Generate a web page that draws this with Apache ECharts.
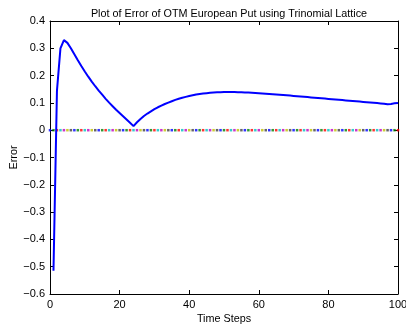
<!DOCTYPE html>
<html>
<head>
<meta charset="utf-8">
<script src="https://cdn.jsdelivr.net/npm/echarts@6/dist/echarts.min.js"></script>
<style>
  html, body { margin: 0; padding: 0; background: #fff; }
  #chart { width: 406px; height: 329px; }
</style>
</head>
<body>
<div id="chart"></div>
<script>
// Error of the trinomial-lattice price against the analytic price, per number of time steps
const steps = [
  1, 2, 3, 4, 5, 6, 7, 8, 9, 10,
  11, 12, 13, 14, 15, 16, 17, 18, 19, 20,
  21, 22, 23, 24, 25, 26, 27, 28, 29, 30,
  31, 32, 33, 34, 35, 36, 37, 38, 39, 40,
  41, 42, 43, 44, 45, 46, 47, 48, 49, 50,
  51, 52, 53, 54, 55, 56, 57, 58, 59, 60,
  61, 62, 63, 64, 65, 66, 67, 68, 69, 70,
  71, 72, 73, 74, 75, 76, 77, 78, 79, 80,
  81, 82, 83, 84, 85, 86, 87, 88, 89, 90,
  91, 92, 93, 94, 95, 96, 97, 98, 99, 100
];
const errorValues = [
  -0.515, 0.145, 0.300, 0.330, 0.320, 0.300, 0.278, 0.256, 0.235, 0.215,
  0.196, 0.178, 0.161, 0.145, 0.130, 0.115, 0.101, 0.088, 0.075, 0.063,
  0.051, 0.039, 0.027, 0.015, 0.029, 0.041, 0.052, 0.061, 0.069, 0.077,
  0.084, 0.090, 0.096, 0.101, 0.106, 0.111, 0.115, 0.119, 0.122, 0.125,
  0.128, 0.1305, 0.1325, 0.134, 0.1355, 0.1368, 0.1378, 0.1386, 0.1392, 0.1396,
  0.1398, 0.1398, 0.1396, 0.1393, 0.1389, 0.1384, 0.1378, 0.1371, 0.1364, 0.1356,
  0.1347, 0.1338, 0.1329, 0.1319, 0.1309, 0.1299, 0.1289, 0.1279, 0.1268, 0.1257,
  0.1246, 0.1235, 0.1224, 0.1213, 0.1202, 0.1191, 0.1180, 0.1169, 0.1158, 0.1147,
  0.1136, 0.1125, 0.1114, 0.1103, 0.1092, 0.1081, 0.1070, 0.1059, 0.1048, 0.1037,
  0.1026, 0.1015, 0.1004, 0.0993, 0.0982, 0.0970, 0.0950, 0.0962, 0.0985, 0.1000
];

// Zero reference, one marker per step count
const refSteps = [
  0, 1, 2, 3, 4, 5, 6, 7, 8, 9, 10,
  11, 12, 13, 14, 15, 16, 17, 18, 19, 20,
  21, 22, 23, 24, 25, 26, 27, 28, 29, 30,
  31, 32, 33, 34, 35, 36, 37, 38, 39, 40,
  41, 42, 43, 44, 45, 46, 47, 48, 49, 50,
  51, 52, 53, 54, 55, 56, 57, 58, 59, 60,
  61, 62, 63, 64, 65, 66, 67, 68, 69, 70,
  71, 72, 73, 74, 75, 76, 77, 78, 79, 80,
  81, 82, 83, 84, 85, 86, 87, 88, 89, 90,
  91, 92, 93, 94, 95, 96, 97, 98, 99, 100
];
const refValues = [
  0, 0, 0, 0, 0, 0, 0, 0, 0, 0, 0,
  0, 0, 0, 0, 0, 0, 0, 0, 0, 0,
  0, 0, 0, 0, 0, 0, 0, 0, 0, 0,
  0, 0, 0, 0, 0, 0, 0, 0, 0, 0,
  0, 0, 0, 0, 0, 0, 0, 0, 0, 0,
  0, 0, 0, 0, 0, 0, 0, 0, 0, 0,
  0, 0, 0, 0, 0, 0, 0, 0, 0, 0,
  0, 0, 0, 0, 0, 0, 0, 0, 0, 0,
  0, 0, 0, 0, 0, 0, 0, 0, 0, 0,
  0, 0, 0, 0, 0, 0, 0, 0, 0, 0
];

const xTicks = [0, 20, 40, 60, 80, 100];
const yTicks = [-0.6, -0.5, -0.4, -0.3, -0.2, -0.1, 0, 0.1, 0.2, 0.3, 0.4];

// classic colour order cycled by the marker series
const markerColors = ['#0000ff', '#008000', '#ff0000', '#00bfbf', '#bf00bf', '#bfbf00', '#404040'];

const FONT = '"Liberation Sans", Arial, Helvetica, sans-serif';
const fmtY = v => String(Math.round(v * 10) / 10).replace('-', '\u2212');

const chart = echarts.init(document.getElementById('chart'), null, { renderer: 'canvas' });

const frameLine = { show: true, onZero: false, lineStyle: { color: '#000', width: 1 } };
const innerTick = { show: true, inside: true, length: 4, lineStyle: { color: '#000', width: 1 } };

chart.setOption({
  animation: false,
  backgroundColor: '#fff',
  title: {
    text: 'Plot of Error of OTM European Put using Trinomial Lattice',
    left: 224, top: 4, textAlign: 'center',
    textStyle: { fontFamily: FONT, fontSize: 10.8, fontWeight: 'normal', color: '#000' }
  },
  grid: { left: 50, right: 8, top: 21, bottom: 35, containLabel: false, outerBoundsMode: 'none' },
  xAxis: [{
    type: 'value', min: xTicks[0], max: xTicks[xTicks.length - 1], interval: 20,
    position: 'bottom',
    name: 'Time Steps', nameLocation: 'middle', nameGap: 20, nameMoveOverlap: false,
    nameTextStyle: { fontFamily: FONT, fontSize: 10.8, color: '#000' },
    axisLine: frameLine, axisTick: innerTick,
    axisLabel: { fontFamily: FONT, fontSize: 11, color: '#000', margin: 5 },
    splitLine: { show: false }
  }, {
    type: 'value', min: xTicks[0], max: xTicks[xTicks.length - 1], interval: 20,
    position: 'top',
    axisLine: frameLine, axisTick: innerTick,
    axisLabel: { show: false }, splitLine: { show: false }
  }],
  yAxis: [{
    type: 'value', min: yTicks[0], max: yTicks[yTicks.length - 1], interval: 0.1,
    position: 'left',
    name: 'Error', nameLocation: 'middle', nameGap: 30, nameRotate: 90, nameMoveOverlap: false,
    nameTextStyle: { fontFamily: FONT, fontSize: 10.8, color: '#000' },
    axisLine: frameLine, axisTick: innerTick,
    axisLabel: { fontFamily: FONT, fontSize: 11, color: '#000', margin: 5, formatter: fmtY },
    splitLine: { show: false }
  }, {
    type: 'value', min: yTicks[0], max: yTicks[yTicks.length - 1], interval: 0.1,
    position: 'right',
    axisLine: frameLine, axisTick: innerTick,
    axisLabel: { show: false }, splitLine: { show: false }
  }],
  series: [{
    type: 'scatter',
    data: refSteps.map((x, i) => [x, refValues[i]]),
    symbol: 'rect', symbolSize: 2.5,
    itemStyle: { color: p => markerColors[p.dataIndex % markerColors.length] },
    z: 2, silent: true
  }, {
    type: 'line',
    data: steps.map((x, i) => [x, errorValues[i]]),
    showSymbol: false,
    lineStyle: { color: '#0000ff', width: 2 },
    z: 3, silent: true
  }]
});
</script>
</body>
</html>
